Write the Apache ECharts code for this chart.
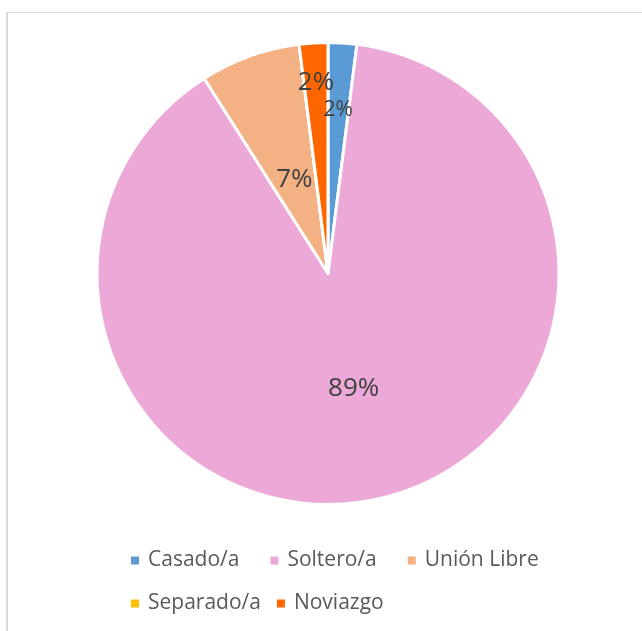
<!DOCTYPE html>
<html>
<head>
<meta charset="utf-8">
<script src="https://cdn.jsdelivr.net/npm/echarts@6/dist/echarts.min.js"></script>
<style>
  html, body { margin: 0; padding: 0; background: #fff; }
  #frame {
    position: absolute; left: 6px; top: 12px; width: 700px; height: 700px;
    border-left: 2px solid #d9d9d9; border-top: 1px solid #d9d9d9;
  }
  #chart { position: absolute; left: 0; top: 0; width: 642px; height: 631px; }
</style>
</head>
<body>
<div id="frame"></div>
<div id="chart"></div>
<script>
// datos del gráfico
const categorias = ['Casado/a', 'Soltero/a', 'Unión Libre', 'Separado/a', 'Noviazgo']
const valores = [2, 89, 7, 0, 2]
const colores = ['#5B9BD5', '#ECA9D7', '#F4B183', '#FFC000', '#FF6600']

// posicion de la etiqueta como fraccion del radio
const labelRadio = [0.71, 0.51, 0.43, 0, 0.83]
const labelTam = [21, 26, 26, 26, 26]

const centro = [328, 273.5]
const radio = 231

const total = valores.reduce((s, v) => s + v, 0)

const chart = echarts.init(document.getElementById('chart'))

const legendText = { fontFamily: 'Open Sans', fontSize: 21, color: '#595959', padding: [0, 0, 0, 3] }

const option = {
  animation: false,
  legend: [
    {
      data: categorias.slice(0, 3),
      left: 129,
      top: 550,
      padding: 0,
      itemWidth: 10,
      itemHeight: 10,
      itemGap: 29,
      icon: 'rect',
      textStyle: legendText
    },
    {
      data: categorias.slice(3),
      left: 129,
      top: 593,
      padding: 0,
      itemWidth: 10,
      itemHeight: 10,
      itemGap: 14,
      icon: 'rect',
      textStyle: legendText
    }
  ],
  series: [
    {
      type: 'pie',
      center: centro,
      radius: radio,
      startAngle: 90,
      clockwise: true,
      data: categorias.map((c, i) => ({
        name: c,
        value: valores[i],
        itemStyle: { color: colores[i] },
        label: { show: valores[i] > 0, fontSize: labelTam[i] }
      })),
      itemStyle: { borderColor: '#fff', borderWidth: 3 },
      label: {
        position: 'inside',
        formatter: '{d}%',
        fontFamily: 'Open Sans',
        color: '#404040'
      },
      labelLine: { show: false },
      emphasis: { disabled: true },
      labelLayout: function (params) {
        const i = params.dataIndex
        const antes = valores.slice(0, i).reduce((s, v) => s + v, 0)
        const ang = (antes + valores[i] / 2) / total * Math.PI * 2
        const r = radio * labelRadio[i]
        return {
          x: centro[0] + r * Math.sin(ang),
          y: centro[1] - r * Math.cos(ang),
          align: 'center',
          verticalAlign: 'middle'
        }
      }
    }
  ]
}

chart.setOption(option)
</script>
</body>
</html>
